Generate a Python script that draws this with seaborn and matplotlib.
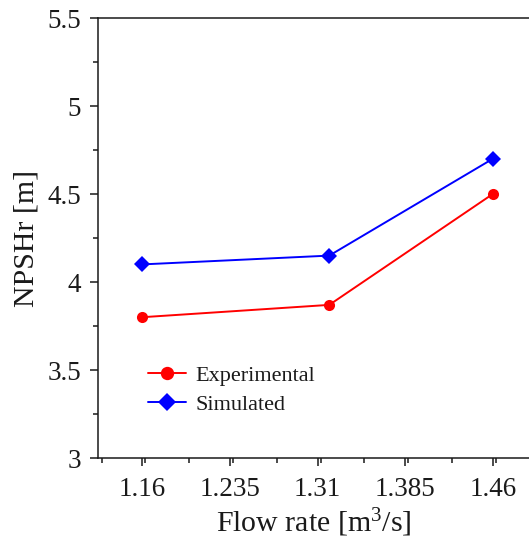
import matplotlib
matplotlib.use("Agg")
import matplotlib.pyplot as plt
from matplotlib.ticker import MultipleLocator, FixedLocator
import seaborn as sns
import pandas as pd

flow_rate = [1.16, 1.32, 1.46]
experimental = [3.80, 3.87, 4.50]
simulated = [4.10, 4.15, 4.70]
series_names = ["Experimental", "Simulated"]
x_ticks = [1.16, 1.235, 1.31, 1.385, 1.46]
x_tick_labels = ["1.16", "1.235", "1.31", "1.385", "1.46"]
y_ticks = [3, 3.5, 4, 4.5, 5, 5.5]
y_tick_labels = ["3", "3.5", "4", "4.5", "5", "5.5"]

df = pd.DataFrame({
    "Flow rate": flow_rate * 2,
    "NPSHr": experimental + simulated,
    "Series": [series_names[0]] * len(flow_rate) + [series_names[1]] * len(flow_rate),
})

sns.set_style("ticks")
plt.rcParams["font.family"] = ["Liberation Serif", "DejaVu Serif"]
plt.rcParams["mathtext.fontset"] = "custom"
plt.rcParams["mathtext.rm"] = "Liberation Serif"

fig = plt.figure(figsize=(5.29, 5.42), dpi=100)
ax = fig.add_axes([98 / 529, 1 - 458 / 542, 1 - 98 / 529, 440 / 542])

sns.lineplot(
    data=df, x="Flow rate", y="NPSHr", hue="Series", style="Series",
    palette={"Experimental": "#ff0000", "Simulated": "#0000ff"},
    markers={"Experimental": "o", "Simulated": "D"},
    dashes=False, markersize=8, markeredgewidth=0, linewidth=1.4, ax=ax,
)

ax.set_xlim(1.122, 1.491)
ax.set_ylim(3, 5.5)
ax.xaxis.set_major_locator(FixedLocator(x_ticks))
ax.set_xticklabels(x_tick_labels)
ax.xaxis.set_minor_locator(MultipleLocator(0.0375))
ax.yaxis.set_major_locator(FixedLocator(y_ticks))
ax.set_yticklabels(y_tick_labels)
ax.yaxis.set_minor_locator(MultipleLocator(0.25))

for side in ["left", "bottom", "top"]:
    ax.spines[side].set_linewidth(1.1)
    ax.spines[side].set_color("#1a1a1a")
ax.spines["right"].set_visible(False)

ax.tick_params(which="major", direction="out", length=6, width=1.1, labelsize=19.5,
               colors="#1a1a1a", top=False, right=False)
ax.tick_params(axis="x", which="major", pad=8)
ax.tick_params(axis="y", which="major", pad=6)
ax.tick_params(which="minor", direction="out", length=3.5, width=1.1,
               colors="#1a1a1a", top=False, right=False)

ax.set_xlabel("Flow rate [m$\\mathrm{^{3}}$/s]", fontsize=21.5, color="#1a1a1a", labelpad=3)
ax.set_ylabel("NPSHr [m]", fontsize=21.5, color="#1a1a1a", labelpad=6)

leg = ax.legend(loc="upper left", bbox_to_anchor=(0.116, 0.211), frameon=False,
                fontsize=16, handlelength=1.7, handletextpad=0.45, labelspacing=0.4,
                borderpad=0, borderaxespad=0, markerscale=1.2)
for t in leg.get_texts():
    t.set_color("#1a1a1a")

fig.savefig("out.png", dpi=100)
